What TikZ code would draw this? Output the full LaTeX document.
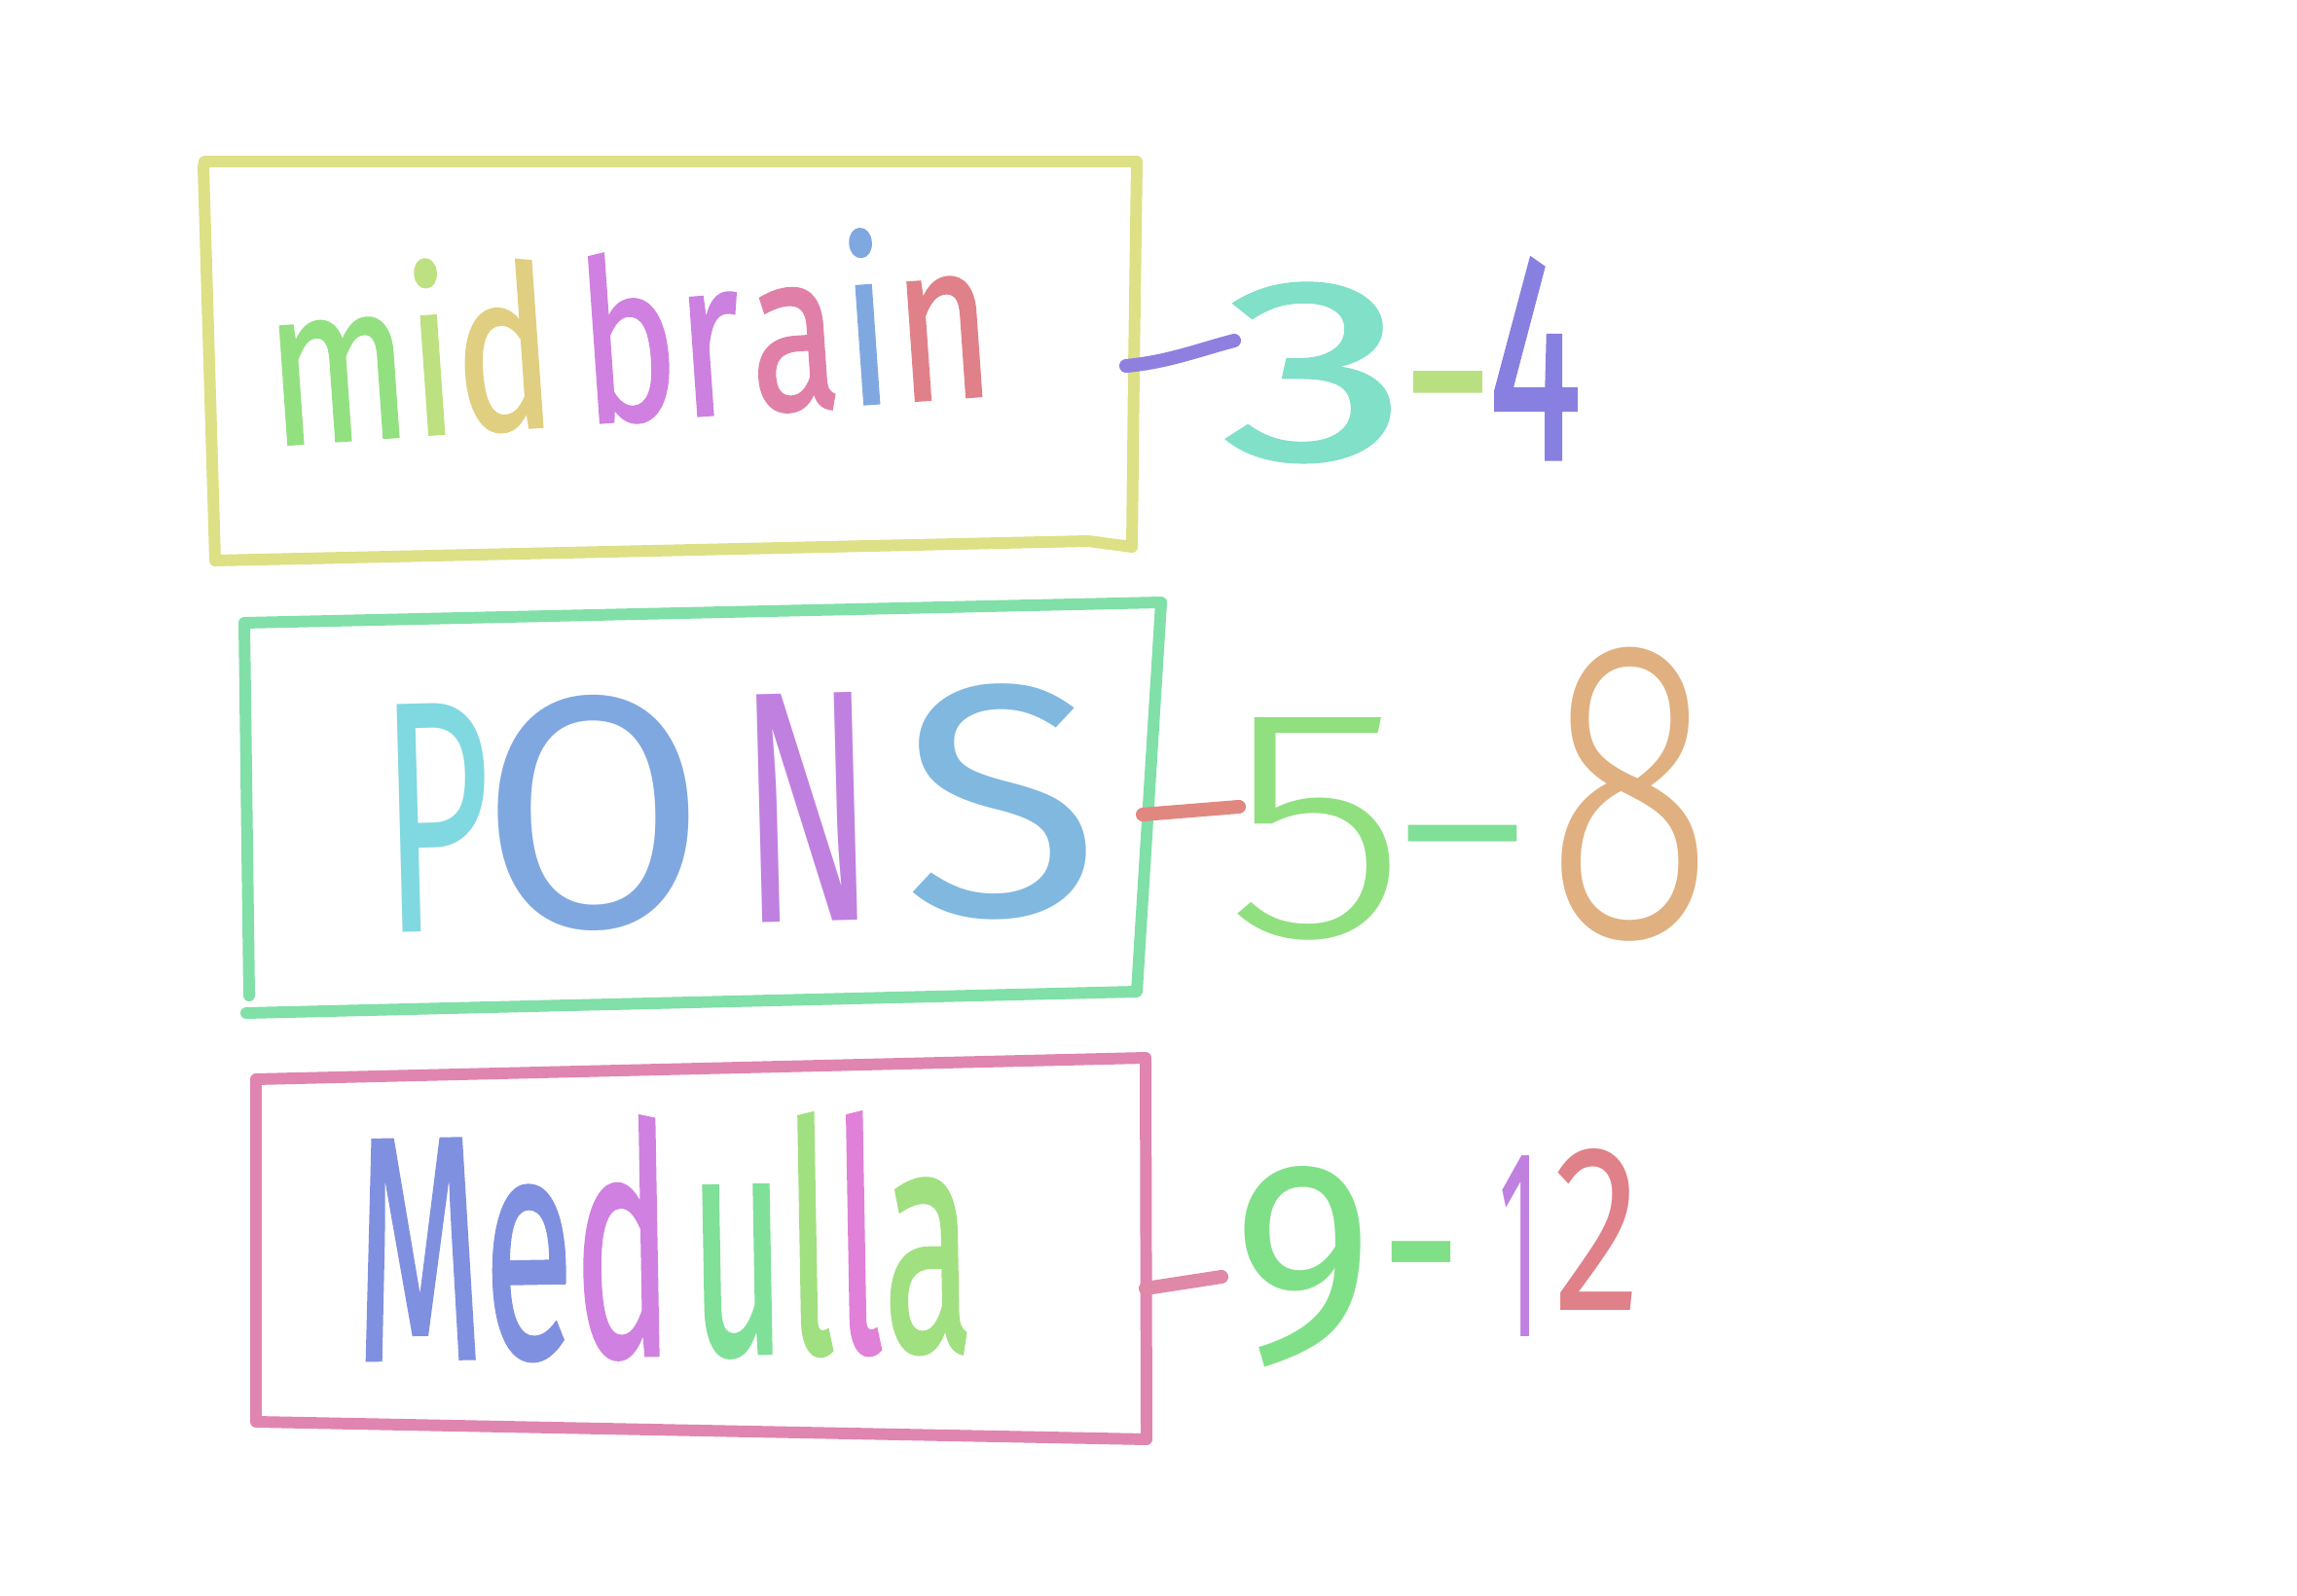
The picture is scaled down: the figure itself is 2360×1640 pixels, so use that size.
\documentclass[tikz,border=0pt]{standalone}
\usepackage{fontspec}
\setmainfont{Fira Sans}[UprightFont=* Light]
\newfontfamily\bookfont{Fira Sans}
\newfontfamily\medfont{Fira Sans}[FakeBold=1]
\usepackage{graphicx}
\definecolor{boxA}{HTML}{DDE085}
\definecolor{boxB}{HTML}{80E0A8}
\definecolor{boxC}{HTML}{E085B0}
\definecolor{cm}{HTML}{93E080}
\definecolor{ci}{HTML}{BDE080}
\definecolor{cd}{HTML}{E0CF80}
\definecolor{cb}{HTML}{D080E0}
\definecolor{cr}{HTML}{CC80E0}
\definecolor{ca}{HTML}{E080A8}
\definecolor{cii}{HTML}{80A8E0}
\definecolor{cn}{HTML}{E08088}
\definecolor{cthree}{HTML}{80E0C8}
\definecolor{cdashA}{HTML}{B8E080}
\definecolor{cfour}{HTML}{8880E0}
\definecolor{connA}{HTML}{8F80E0}
\definecolor{cP}{HTML}{80D8E0}
\definecolor{cO}{HTML}{80A8E0}
\definecolor{cN}{HTML}{C080E0}
\definecolor{cS}{HTML}{80B8E0}
\definecolor{connB}{HTML}{E08880}
\definecolor{cfive}{HTML}{90E080}
\definecolor{cdashB}{HTML}{80E098}
\definecolor{ceight}{HTML}{E0B080}
\definecolor{cM}{HTML}{8090E0}
\definecolor{cdd}{HTML}{D080E0}
\definecolor{cu}{HTML}{80E098}
\definecolor{cl}{HTML}{A0E080}
\definecolor{cll}{HTML}{E080D8}
\definecolor{connC}{HTML}{E088A8}
\definecolor{cnine}{HTML}{80E088}
\definecolor{cone}{HTML}{C080E0}
\definecolor{ctwo}{HTML}{E08088}
\begin{document}
\begin{tikzpicture}[x=0.01cm,y=-0.01cm,
  boxline/.style={line width=3.4pt, line cap=round, line join=round},
  connline/.style={line width=4pt, line cap=round},
  lbl/.style={inner sep=0pt, outer sep=0pt, anchor=base west}]
\useasboundingbox (0,0) rectangle (2360,1640);
\fill[white] (0,0) rectangle (2360,1640);

% boxes
\draw[boxline, boxA] (209,172) -- (210,166) -- (1168,166) -- (1165,380) -- (1163,562) -- (1118,556) -- (221,576) -- cycle;
\draw[boxline, boxB] (256,1023) -- (251,640) -- (1193,619) -- (1168,1019) -- (253,1041);
\draw[boxline, boxC] (263,1109) -- (1177,1087) -- (1178,1479) -- (263,1461) -- cycle;

% region labels
\node[lbl, rotate=4] (mid) at (280,458) {\resizebox{7.45cm}{1.8cm}{\medfont\textcolor{cm}{m}\textcolor{ci}{i}\textcolor{cd}{d}\kern0.16em\textcolor{cb}{b}\textcolor{cr}{r}\kern0.05em\textcolor{ca}{a}\kern0.03em\textcolor{cii}{i}\kern0.03em\textcolor{cn}{n}}};
\node[lbl, rotate=1.5] (pons) at (394,958) {\resizebox{7.38cm}{2.38cm}{\bookfont\textcolor{cP}{\scalebox{0.7}[1]{P}}\kern-0.04em\textcolor{cO}{\scalebox{1.2}[1]{O}}\kern0.12em\textcolor{cN}{\scalebox{0.72}[1]{N}}\kern0.1em\textcolor{cS}{\scalebox{1.33}[1]{S}}}};
\node[lbl, rotate=1] (med) at (366,1398) {\resizebox{6.35cm}{2.46cm}{\medfont\textcolor{cM}{M}\textcolor{cM}{e}\textcolor{cdd}{d}\kern0.1em\textcolor{cu}{u}\textcolor{cl}{l}\textcolor{cll}{l}\textcolor{cl}{a}}};

% number labels
\node[lbl] (n34) at (1255,472) {\resizebox{3.7cm}{2.07cm}{\medfont\textcolor{cthree}{\scalebox{1.6}[1.05]{3}}\kern-0.04em\textcolor{cdashA}{-}\kern-0.03em\textcolor{cfour}{\scalebox{0.75}[1.2]{4}}}};
\node[lbl] (n58) at (1258,962) {\resizebox{5.03cm}{2.97cm}{\textcolor{cfive}{\scalebox{1.2}[1]{5}}\kern-0.09em\textcolor{cdashB}{\scalebox{1.3}[1]{-}}\textcolor{ceight}{\scalebox{1}[1.3]{8}}}};
\node[lbl] (n912) at (1266,1373) {\resizebox{4.2cm}{1.92cm}{\bookfont\textcolor{cnine}{\raisebox{-0.09em}{\scalebox{1.3}[1.06]{9}}}\kern0.03em\textcolor{cnine}{-}\kern0.17em\textcolor{cone}{\scalebox{0.45}[1]{1}}\kern0.07em\textcolor{ctwo}{\raisebox{0.094em}{\scalebox{0.85}[0.88]{2}}}}};

% connectors
\coordinate (c1a) at (1157,376);
\coordinate (c1b) at (1268,350);
\coordinate (c2a) at (1174,837);
\coordinate (c2b) at (1273,829);
\coordinate (c3a) at (1177,1324);
\coordinate (c3b) at (1255,1312);
\draw[connline, connA] (c1a) .. controls (1200,372) and (1230,360) .. (c1b);
\draw[connline, connB] (c2a) -- (c2b);
\draw[connline, connC] (c3a) -- (c3b);
\end{tikzpicture}
\end{document}
